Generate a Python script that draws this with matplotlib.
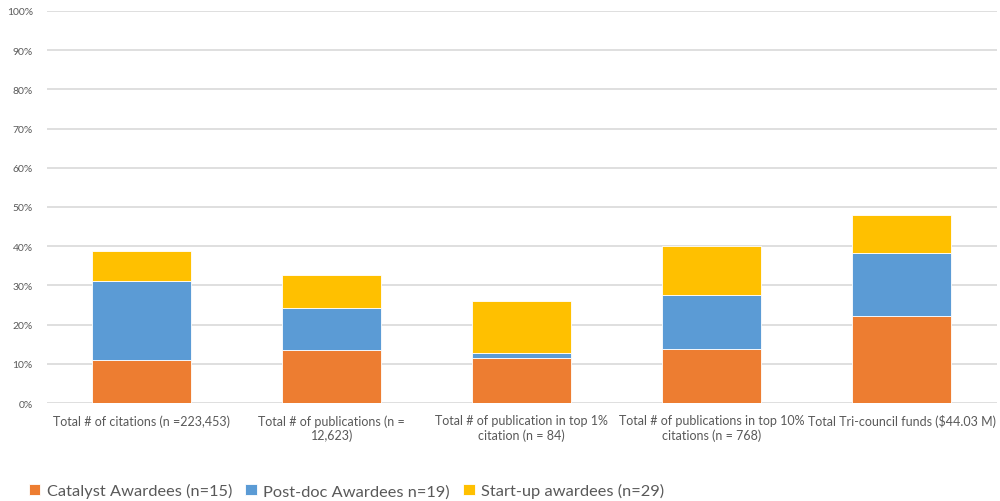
import numpy as np
import matplotlib.pyplot as plt

# Share of each total contributed by each awardee group (%)
categories = [
    "Total # of citations (n =223,453)",
    "Total # of publications (n =\n12,623)",
    "Total # of publication in top 1%\ncitation (n = 84)",
    "Total # of publications in top 10%\ncitations (n = 768)",
    "Total Tri-council funds (\\$44.03 M)",
]
catalyst = [11.0, 13.5, 11.5, 13.7, 22.3]
postdoc = [20.0, 10.7, 1.3, 13.9, 16.0]
startup = [7.7, 8.5, 13.2, 12.4, 9.7]

series = [
    ("Catalyst Awardees (n=15)", catalyst, "#ED7D31"),
    ("Post-doc Awardees n=19)", postdoc, "#5B9BD5"),
    ("Start-up awardees (n=29)", startup, "#FFC000"),
]

plt.rcParams['font.family'] = ['Lato', 'DejaVu Sans']
grey = "#595959"

fig = plt.figure(figsize=(10, 5.02), dpi=100)
ax = fig.add_axes([0.0467, 0.1952, 0.95, 0.781])

x = np.arange(len(categories))
bottom = np.zeros(len(categories))
for label, vals, color in series:
    ax.bar(x, vals, 0.52, bottom=bottom, color=color, label=label,
           edgecolor="white", linewidth=0.6, zorder=3)
    bottom += np.array(vals)

ax.set_xlim(-0.5, len(categories) - 0.5)
ax.set_ylim(0, 100)
ax.set_yticks(np.arange(0, 101, 10))
ax.set_yticklabels([f"{v}%" for v in range(0, 101, 10)], fontsize=7.5, color=grey)
ax.set_xticks(x)
ax.set_xticklabels(categories, fontsize=9, color=grey, linespacing=1.2)
ax.tick_params(length=0, pad=8)
ax.tick_params(axis="y", pad=10)
ax.grid(axis="y", color="#D9D9D9", linewidth=1.2, zorder=0)
for s in ax.spines.values():
    s.set_visible(False)

fig.legend(loc="lower left", bbox_to_anchor=(0.014, -0.024), ncol=3,
           frameon=False, fontsize=11.8, labelcolor=grey,
           handlelength=0.7, handleheight=0.7, handletextpad=0.4,
           columnspacing=0.8)

fig.savefig("out.png", dpi=100)
